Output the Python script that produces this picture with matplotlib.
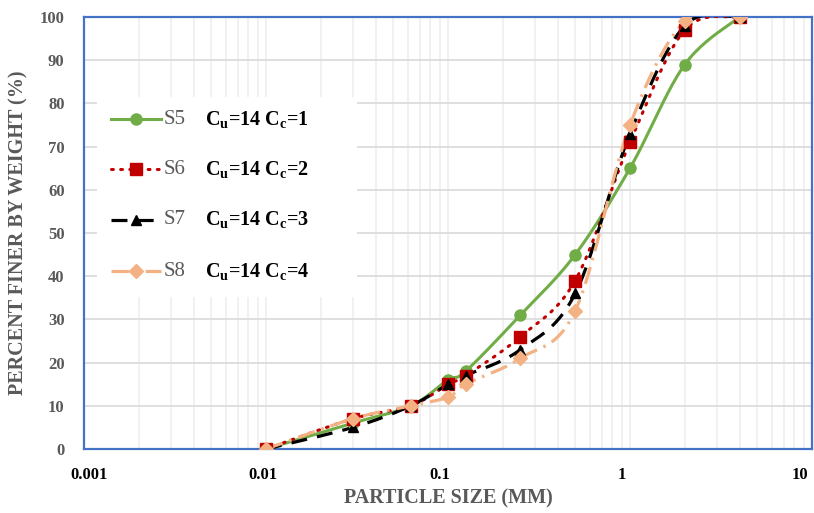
import numpy as np
import matplotlib
matplotlib.use("Agg")
import matplotlib.pyplot as plt
import matplotlib.transforms as mtransforms
from matplotlib.lines import Line2D
from matplotlib.patches import Rectangle

plt.rcParams["font.family"] = ["Liberation Serif", "DejaVu Serif"]
plt.rcParams["mathtext.default"] = "regular"

# Sieve sizes (mm) and percent passing for each sample
sizes = [0.01, 0.03, 0.0625, 0.1, 0.125, 0.25, 0.5, 1.0, 2.0, 4.0]
s5 = [0, 6, 10, 16, 18, 31, 45, 65, 89, 100]
s6 = [0, 7, 10, 15, 17, 26, 39, 71, 97, 100]
s7 = [0, 5, 10, 15, 17, 23, 36, 73, 98, 100]
s8 = [0, 7, 10, 12, 15, 21, 32, 75, 99, 100]

names = ["S5", "S6", "S7", "S8"]
coef_labels = ["C$_u$=14 C$_c$=1", "C$_u$=14 C$_c$=2",
               "C$_u$=14 C$_c$=3", "C$_u$=14 C$_c$=4"]
x_ticks = [0.001, 0.01, 0.1, 1, 10]
x_tick_labels = ["0.001", "0.01", "0.1", "1", "10"]
y_ticks = list(range(0, 101, 10))

styles = [
    dict(color="#70AD47", ls="-", marker="o", ms=8, lw=2.2),
    dict(color="#C00000", ls=(0, (0.6, 2.4)), marker="s", ms=8.5, lw=2.2),
    dict(color="black", ls=(0, (5.0, 3.2)), marker="^", ms=7, lw=2.3),
    dict(color="#F4B183", ls=(0, (5.5, 2.2, 0.8, 2.2)), marker="D", ms=7.5, lw=2.3),
]


def smooth_curve(xs, ys, sx=182.0, sy=4.32, n=24):
    """Catmull-Rom style Bezier smoothing in log-x display space."""
    P = np.column_stack([np.log10(xs) * sx, np.asarray(ys, float) * sy])
    out = []
    m = len(P)
    t = np.linspace(0, 1, n)[:, None]
    for i in range(m - 1):
        p0 = P[i - 1] if i > 0 else P[i]
        p3 = P[i + 2] if i + 2 < m else P[i + 1]
        c1 = P[i] + (P[i + 1] - p0) / 6.0
        c2 = P[i + 1] - (p3 - P[i]) / 6.0
        seg = ((1 - t) ** 3) * P[i] + 3 * ((1 - t) ** 2) * t * c1 \
            + 3 * (1 - t) * t ** 2 * c2 + t ** 3 * P[i + 1]
        out.append(seg if i == 0 else seg[1:])
    out = np.vstack(out)
    return 10 ** (out[:, 0] / sx), out[:, 1] / sy


fig = plt.figure(figsize=(8.14, 5.13), dpi=100)
ax = fig.add_axes([84 / 814, 64 / 513, 728 / 814, 432 / 513])

ax.set_xscale("log")
ax.set_xlim(0.001, 10)
ax.set_ylim(0, 100)

ax.grid(True, which="major", axis="y", color="#D9D9D9", lw=1.2)
ax.grid(True, which="both", axis="x", color="#EFEFEF", lw=1.2)
ax.set_axisbelow(True)

for vals, st in zip([s5, s6, s7, s8], styles):
    cx, cy = smooth_curve(sizes, vals)
    ax.plot(cx, cy, color=st["color"], ls=st["ls"], lw=st["lw"],
            dash_capstyle="round" if st["marker"] == "s" else "butt",
            solid_capstyle="round", zorder=3)
    ax.plot(sizes, vals, ls="none", marker=st["marker"], ms=st["ms"],
            color=st["color"], mec=st["color"], zorder=4)

ax.set_xticks(x_ticks)
ax.set_xticklabels(x_tick_labels)
ax.set_yticks(y_ticks)
ax.tick_params(axis="both", which="both", length=0)
ax.tick_params(axis="x", pad=13, labelsize=12, labelcolor="black")
ax.tick_params(axis="y", pad=14, labelsize=12, labelcolor="#595959")
for lab in ax.get_xticklabels() + ax.get_yticklabels():
    lab.set_fontweight("bold")

# Nudge the x tick labels horizontally (pixels)
label_shift = [5, -3, -8, -8.5, -12]
for lab, dx in zip(ax.get_xticklabels(), label_shift):
    lab.set_transform(lab.get_transform() +
                      mtransforms.ScaledTranslation(dx / 100.0, 0, fig.dpi_scale_trans))

for sp in ax.spines.values():
    sp.set_color("#4472C4")
    sp.set_linewidth(1.6)

ax.set_xlabel("PARTICLE SIZE (MM)", fontsize=14.5, fontweight="bold",
              color="#595959", labelpad=4)
ax.set_ylabel("PERCENT FINER BY WEIGHT (%)", fontsize=14.5, fontweight="bold",
              color="#595959", labelpad=8)

# Legend panel drawn in pixel coordinates of the axes
def ax_frac(px, py):
    return (px - 84) / 728.0, (449 - py) / 432.0

bx0, by0 = ax_frac(97, 297)
bx1, by1 = ax_frac(357, 97)
ax.add_patch(Rectangle((bx0, by0), bx1 - bx0, by1 - by0, transform=ax.transAxes,
                       facecolor="white", edgecolor="none", zorder=5))

row_y = [119, 169, 220, 271]
for name, clab, st, ry in zip(names, coef_labels, styles, row_y):
    xa, ya = ax_frac(111, ry)
    xb, _ = ax_frac(161, ry)
    xm, _ = ax_frac(136, ry)
    ax.add_line(Line2D([xa, xb], [ya, ya], transform=ax.transAxes,
                       color=st["color"], ls=st["ls"], lw=st["lw"],
                       dash_capstyle="round" if st["marker"] == "s" else "butt",
                       zorder=6))
    ax.add_line(Line2D([xm], [ya], transform=ax.transAxes, ls="none",
                       marker=st["marker"], ms=st["ms"], color=st["color"],
                       zorder=7))
    tx, _ = ax_frac(164, ry)
    ax.text(tx, ya, name, transform=ax.transAxes, fontsize=15,
            color="#595959", va="center", ha="left", zorder=7)
    cx_, _ = ax_frac(205, ry)
    ax.text(cx_, ya, clab, transform=ax.transAxes, fontsize=14.5,
            fontweight="bold", color="black", va="center", ha="left", zorder=7)

fig.savefig("out.png", dpi=100)
